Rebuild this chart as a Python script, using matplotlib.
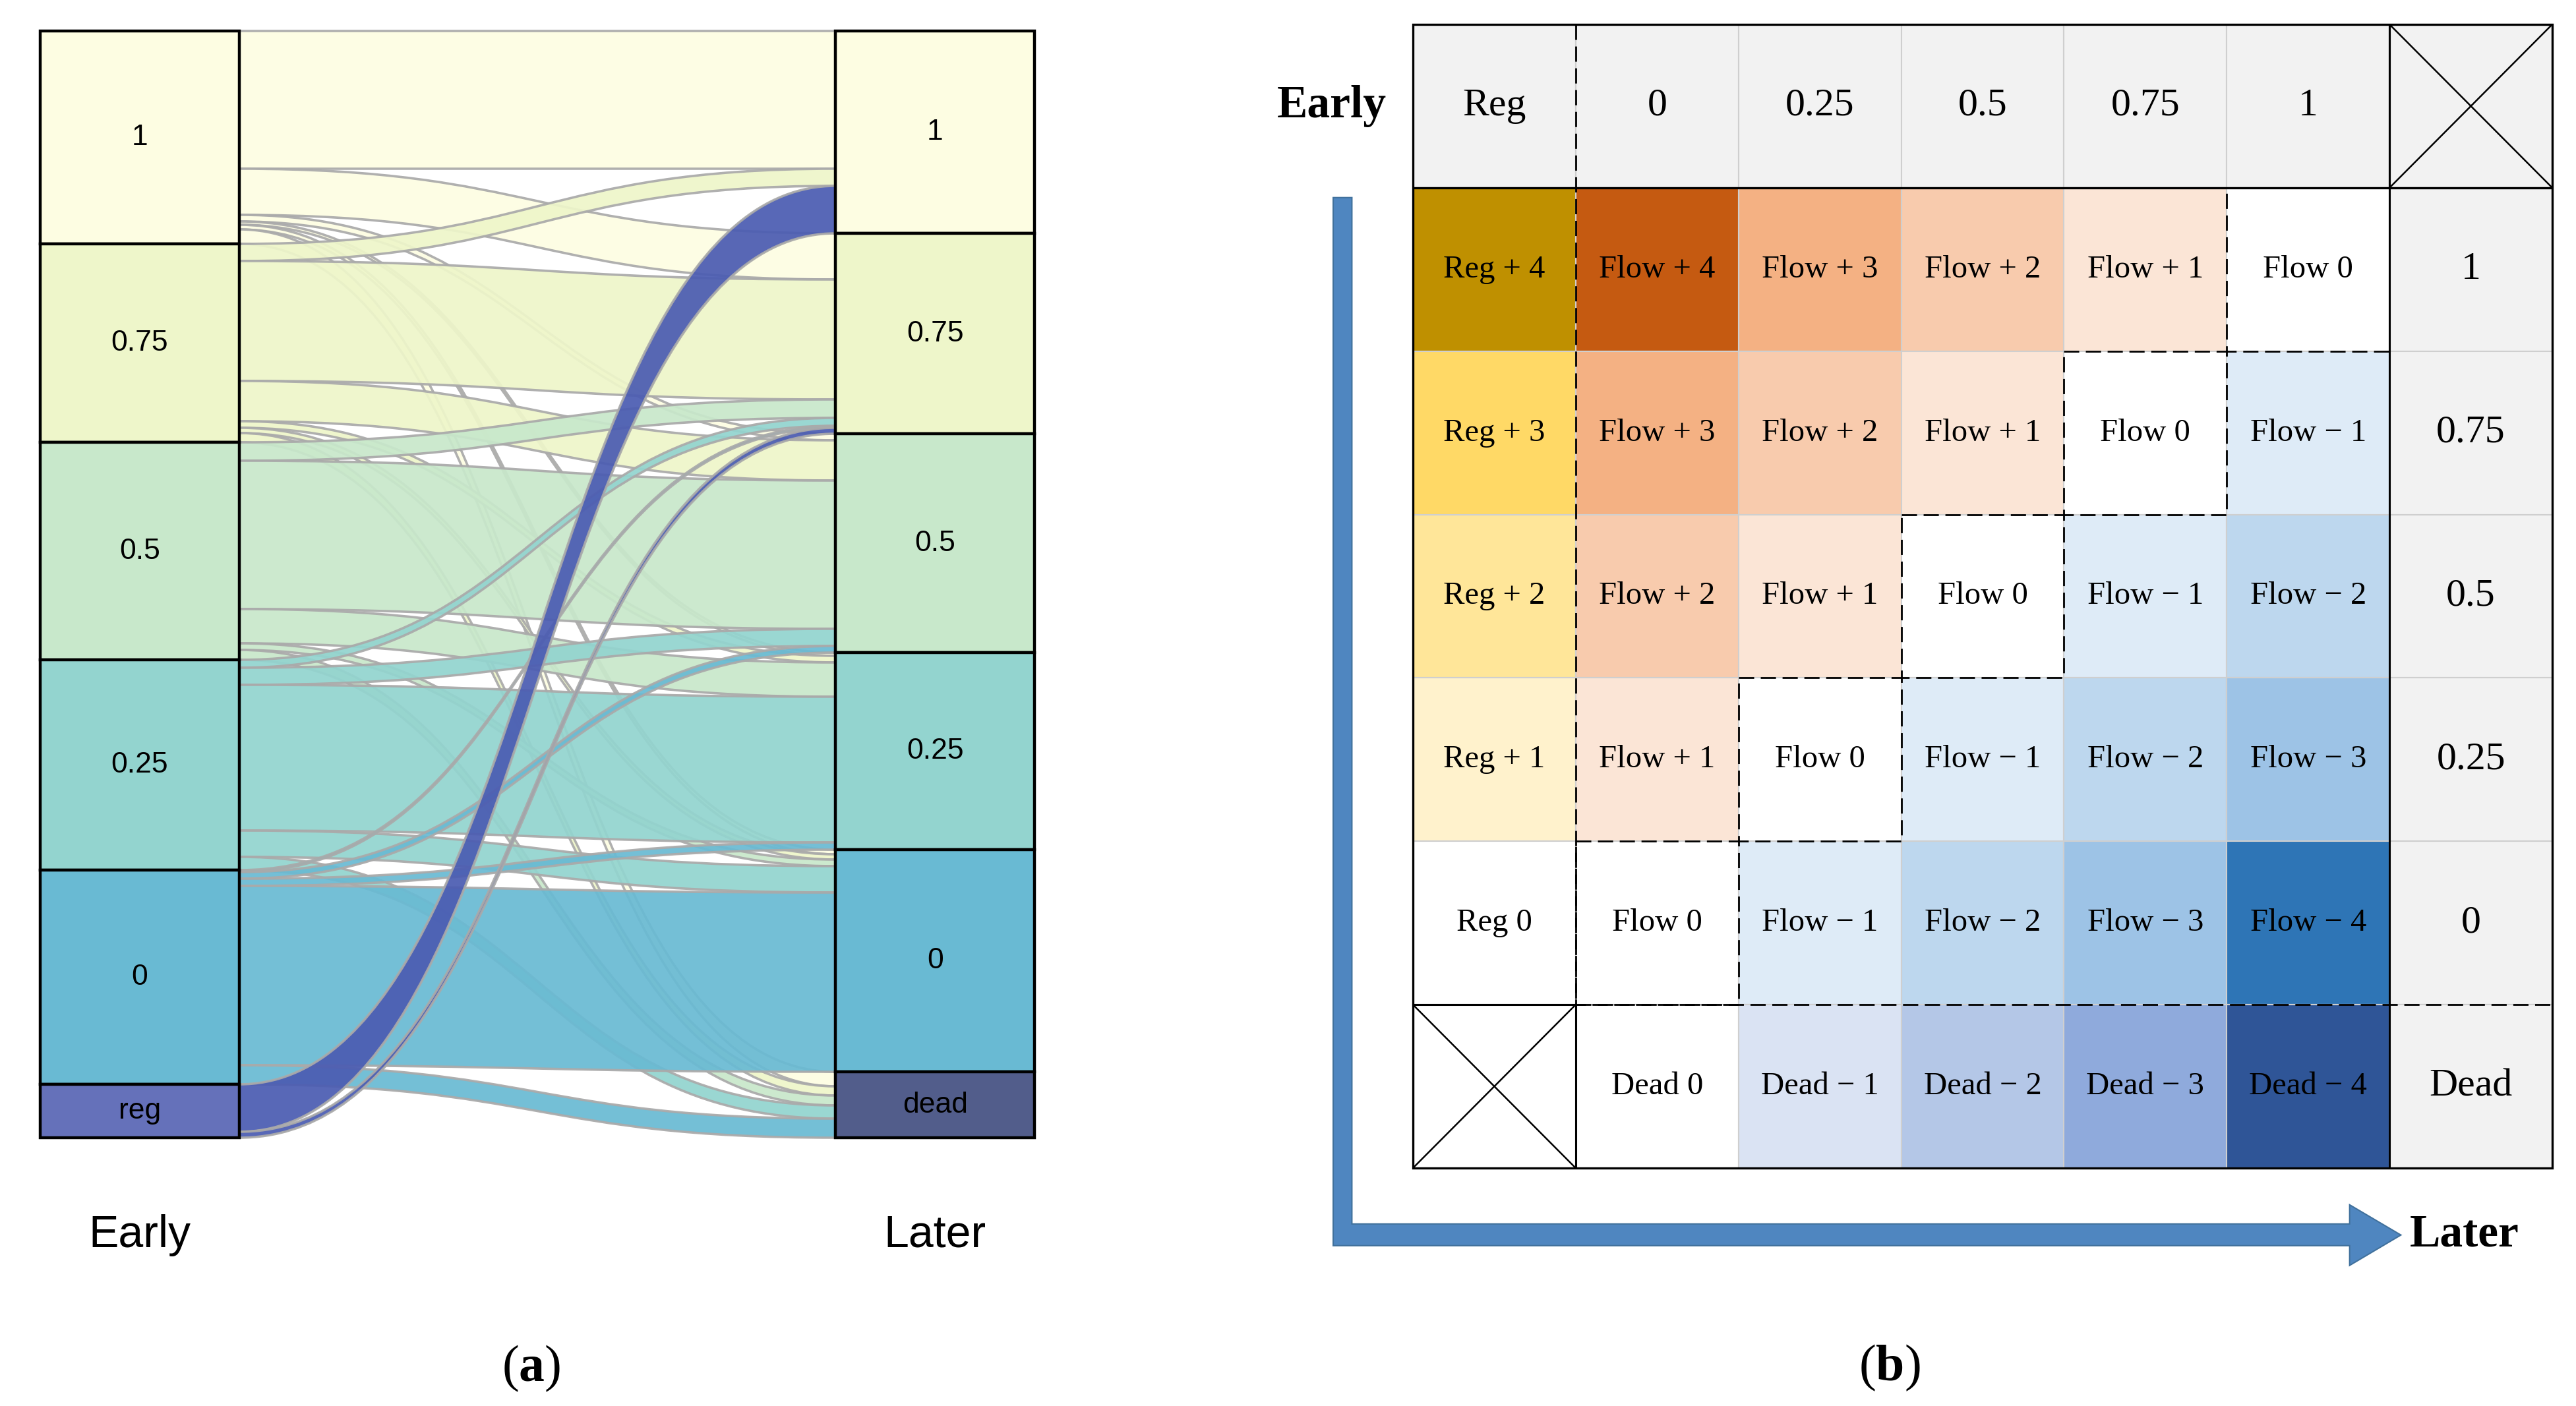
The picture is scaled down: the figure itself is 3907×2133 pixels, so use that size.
import matplotlib
matplotlib.use('Agg')
import matplotlib.pyplot as plt
from matplotlib.path import Path
from matplotlib.patches import PathPatch, Rectangle, Polygon
import numpy as np

plt.rcParams.update({
    'mathtext.fontset': 'custom',
    'mathtext.rm': 'Liberation Serif',
    'mathtext.bf': 'Liberation Serif:bold',
})

SANS = 'Liberation Sans'
SERIF = 'Liberation Serif'

# ---------------- (a) alluvial data: Early -> Later ----------------
early_states = ['1', '0.75', '0.5', '0.25', '0', 'reg']
later_states = ['1', '0.75', '0.5', '0.25', '0', 'dead']
# rows = early state, cols = later state
flow_counts = [
    [209, 70, 10, 5, 7, 22],
    [26, 182, 61, 10, 8, 14],
    [0, 28, 225, 52, 10, 15],
    [0, 12, 26, 221, 40, 20],
    [0, 3, 10, 11, 272, 29],
    [72, 9, 0, 0, 0, 0],
]
early_colors = ['#fdfde2', '#eef6ca', '#c8e8cb', '#93d4cf', '#69bad3', '#6571ba']
later_colors = ['#fdfde2', '#eef6ca', '#c8e8cb', '#93d4cf', '#69bad3', '#525d8b']
ribbon_colors = ['#fdfde2', '#eef6ca', '#c8e8cb', '#93d4cf', '#69bad3', '#4b5cb2']

# ---------------- (b) transition table data ----------------
grid_cols = ['Reg', '0', '0.25', '0.5', '0.75', '1']      # early
grid_rows = ['1', '0.75', '0.5', '0.25', '0', 'Dead']     # later
cell_scores = [
    [4, 4, 3, 2, 1, 0],
    [3, 3, 2, 1, 0, -1],
    [2, 2, 1, 0, -1, -2],
    [1, 1, 0, -1, -2, -3],
    [0, 0, -1, -2, -3, -4],
    [None, 0, -1, -2, -3, -4],
]
reg_colors = {4: '#bf9000', 3: '#ffd966', 2: '#ffe699', 1: '#fff2cc', 0: '#ffffff'}
flow_colors = {4: '#c55a11', 3: '#f4b183', 2: '#f8cbad', 1: '#fbe5d6', 0: '#ffffff',
               -1: '#deebf7', -2: '#bdd7ee', -3: '#9dc3e6', -4: '#2e75b6'}
dead_colors = {0: '#ffffff', -1: '#dae3f3', -2: '#b4c7e7', -3: '#8faadc', -4: '#2f5597'}

W, H = 3907, 2133
fig = plt.figure(figsize=(W / 100, H / 100), dpi=100)

# ================= panel (a) =================
ax_a = fig.add_axes([61 / W, 1 - 1726 / H, 1508 / W, 1679 / H])
fc = np.array(flow_counts, dtype=float)
left_tot = fc.sum(axis=1)
right_tot = fc.sum(axis=0)
total = fc.sum()
left_top = np.concatenate([[0], np.cumsum(left_tot)[:-1]])
right_top = np.concatenate([[0], np.cumsum(right_tot)[:-1]])

x0, x1 = 1.0, 4.0
xm = (x0 + x1) / 2
loff = left_top.copy()
roff = right_top.copy()
n = len(early_states)
for i in range(n):
    for j in range(n):
        v = fc[i, j]
        if v == 0:
            continue
        ya, yb = loff[i], loff[i] + v
        yc, yd = roff[j], roff[j] + v
        loff[i] += v
        roff[j] += v
        verts = [(x0, ya), (xm, ya), (xm, yc), (x1, yc),
                 (x1, yd), (xm, yd), (xm, yb), (x0, yb), (x0, ya)]
        codes = [Path.MOVETO, Path.CURVE4, Path.CURVE4, Path.CURVE4,
                 Path.LINETO, Path.CURVE4, Path.CURVE4, Path.CURVE4, Path.CLOSEPOLY]
        ax_a.add_patch(PathPatch(Path(verts, codes), facecolor=ribbon_colors[i],
                                 edgecolor='#aaaaaa', lw=2.6, alpha=0.93,
                                 zorder=2 + (3 if i == n - 1 else 0), clip_on=False))

for k in range(n):
    ax_a.add_patch(Rectangle((0, left_top[k]), 1, left_tot[k], facecolor=early_colors[k],
                             edgecolor='black', lw=3.2, zorder=10, clip_on=False))
    ax_a.text(0.5, left_top[k] + left_tot[k] / 2, early_states[k], ha='center', va='center',
              fontsize=32, family=SANS, zorder=11)
    ax_a.add_patch(Rectangle((4, right_top[k]), 1, right_tot[k], facecolor=later_colors[k],
                             edgecolor='black', lw=3.2, zorder=10, clip_on=False))
    ax_a.text(4.5, right_top[k] + right_tot[k] / 2, later_states[k], ha='center', va='center',
              fontsize=32, family=SANS, zorder=11)

ax_a.set_xlim(0, 5)
ax_a.set_ylim(total, 0)
ax_a.axis('off')
tr = ax_a.get_xaxis_transform()
ax_a.text(0.5, -0.088, 'Early', transform=tr, ha='center', va='center', fontsize=49, family=SANS)
ax_a.text(4.5, -0.088, 'Later', transform=tr, ha='center', va='center', fontsize=49, family=SANS)
ax_a.text(2.47, -0.2085, r'($\mathbf{a}$)', transform=tr, ha='center', va='center',
          fontsize=56, family=SERIF)

# ================= panel (b) =================
ax_b = fig.add_axes([2143 / W, 1 - 1772 / H, 1728 / W, 1735 / H])
ax_b.set_xlim(0, 7)
ax_b.set_ylim(7, 0)
ax_b.axis('off')
GRID = '#cfcfcf'
HEAD = '#f2f2f2'


def cell_label(kind, s):
    if s == 0:
        return f'{kind} 0'
    if s > 0:
        return f'{kind} + {s}'
    return f'{kind} \u2212 {abs(s)}'


# header row
for c, lab in enumerate(grid_cols):
    ax_b.add_patch(Rectangle((c, 0), 1, 1, facecolor=HEAD, edgecolor=GRID, lw=1.5, zorder=1))
    ax_b.text(c + 0.5, 0.5, lab, ha='center', va='center', fontsize=43, family=SERIF, zorder=3)
ax_b.add_patch(Rectangle((6, 0), 1, 1, facecolor=HEAD, edgecolor=GRID, lw=1.5, zorder=1))

# later-state column
for r, lab in enumerate(grid_rows):
    ax_b.add_patch(Rectangle((6, r + 1), 1, 1, facecolor=HEAD, edgecolor=GRID, lw=1.5, zorder=1))
    ax_b.text(6.5, r + 1.5, lab, ha='center', va='center', fontsize=43, family=SERIF, zorder=3)

# body cells
for r, row in enumerate(cell_scores):
    for c, s in enumerate(row):
        if s is None:
            ax_b.add_patch(Rectangle((c, r + 1), 1, 1, facecolor='white', edgecolor=GRID,
                                     lw=1.5, zorder=1))
            continue
        if c == 0:
            kind, col = 'Reg', reg_colors[s]
        elif r == len(grid_rows) - 1:
            kind, col = 'Dead', dead_colors[s]
        else:
            kind, col = 'Flow', flow_colors[s]
        ax_b.add_patch(Rectangle((c, r + 1), 1, 1, facecolor=col, edgecolor=GRID, lw=1.5, zorder=1))
        ax_b.text(c + 0.5, r + 1.5, cell_label(kind, s), ha='center', va='center',
                  fontsize=35, family=SERIF, zorder=3)

# dashed boundaries around the "Flow 0" diagonal
DASH = (0, (8.3, 3.6))
for r, row in enumerate(cell_scores[:-1]):
    for c, s in enumerate(row):
        if c > 0 and s == 0:
            ax_b.add_patch(Rectangle((c, r + 1), 1, 1, fill=False, edgecolor='black', lw=2.0,
                                     linestyle=DASH, zorder=4))
ax_b.plot([1, 1], [0, 6], color='black', lw=2.0, linestyle=DASH, zorder=4)
ax_b.plot([1, 7], [6, 6], color='black', lw=2.0, linestyle=DASH, zorder=4)

# solid boundaries
ax_b.add_patch(Rectangle((0, 0), 7, 7, fill=False, edgecolor='black', lw=2.4, zorder=5, clip_on=False))
ax_b.plot([0, 7], [1, 1], color='black', lw=2.4, zorder=5)
ax_b.plot([6, 6], [0, 7], color='black', lw=2.2, zorder=5)
for (cx, cy) in [(6, 0), (0, 6)]:
    ax_b.add_patch(Rectangle((cx, cy), 1, 1, fill=False, edgecolor='black', lw=2.2, zorder=5))
    ax_b.plot([cx, cx + 1], [cy, cy + 1], color='black', lw=1.8, zorder=5)
    ax_b.plot([cx, cx + 1], [cy + 1, cy], color='black', lw=1.8, zorder=5)

# L-shaped arrow (Early -> Later)
arrow_pts = [(-0.49, 1.06), (-0.375, 1.06), (-0.375, 7.342), (5.755, 7.342), (5.755, 7.225),
             (6.07, 7.41), (5.755, 7.596), (5.755, 7.475), (-0.49, 7.475)]
ax_b.add_patch(Polygon(arrow_pts, closed=True, facecolor='#4f86c0', edgecolor='#41719c',
                       lw=1.5, zorder=2, clip_on=False))
ax_b.text(-0.5, 0.5, 'Early', ha='center', va='center', fontsize=50, family=SERIF,
          fontweight='bold', clip_on=False)
ax_b.text(6.46, 7.41, 'Later', ha='center', va='center', fontsize=50, family=SERIF,
          fontweight='bold', clip_on=False)
ax_b.text(2.93, 8.225, r'($\mathbf{b}$)', ha='center', va='center', fontsize=56, family=SERIF,
          clip_on=False)

fig.savefig('out.png', dpi=100, facecolor='white')
